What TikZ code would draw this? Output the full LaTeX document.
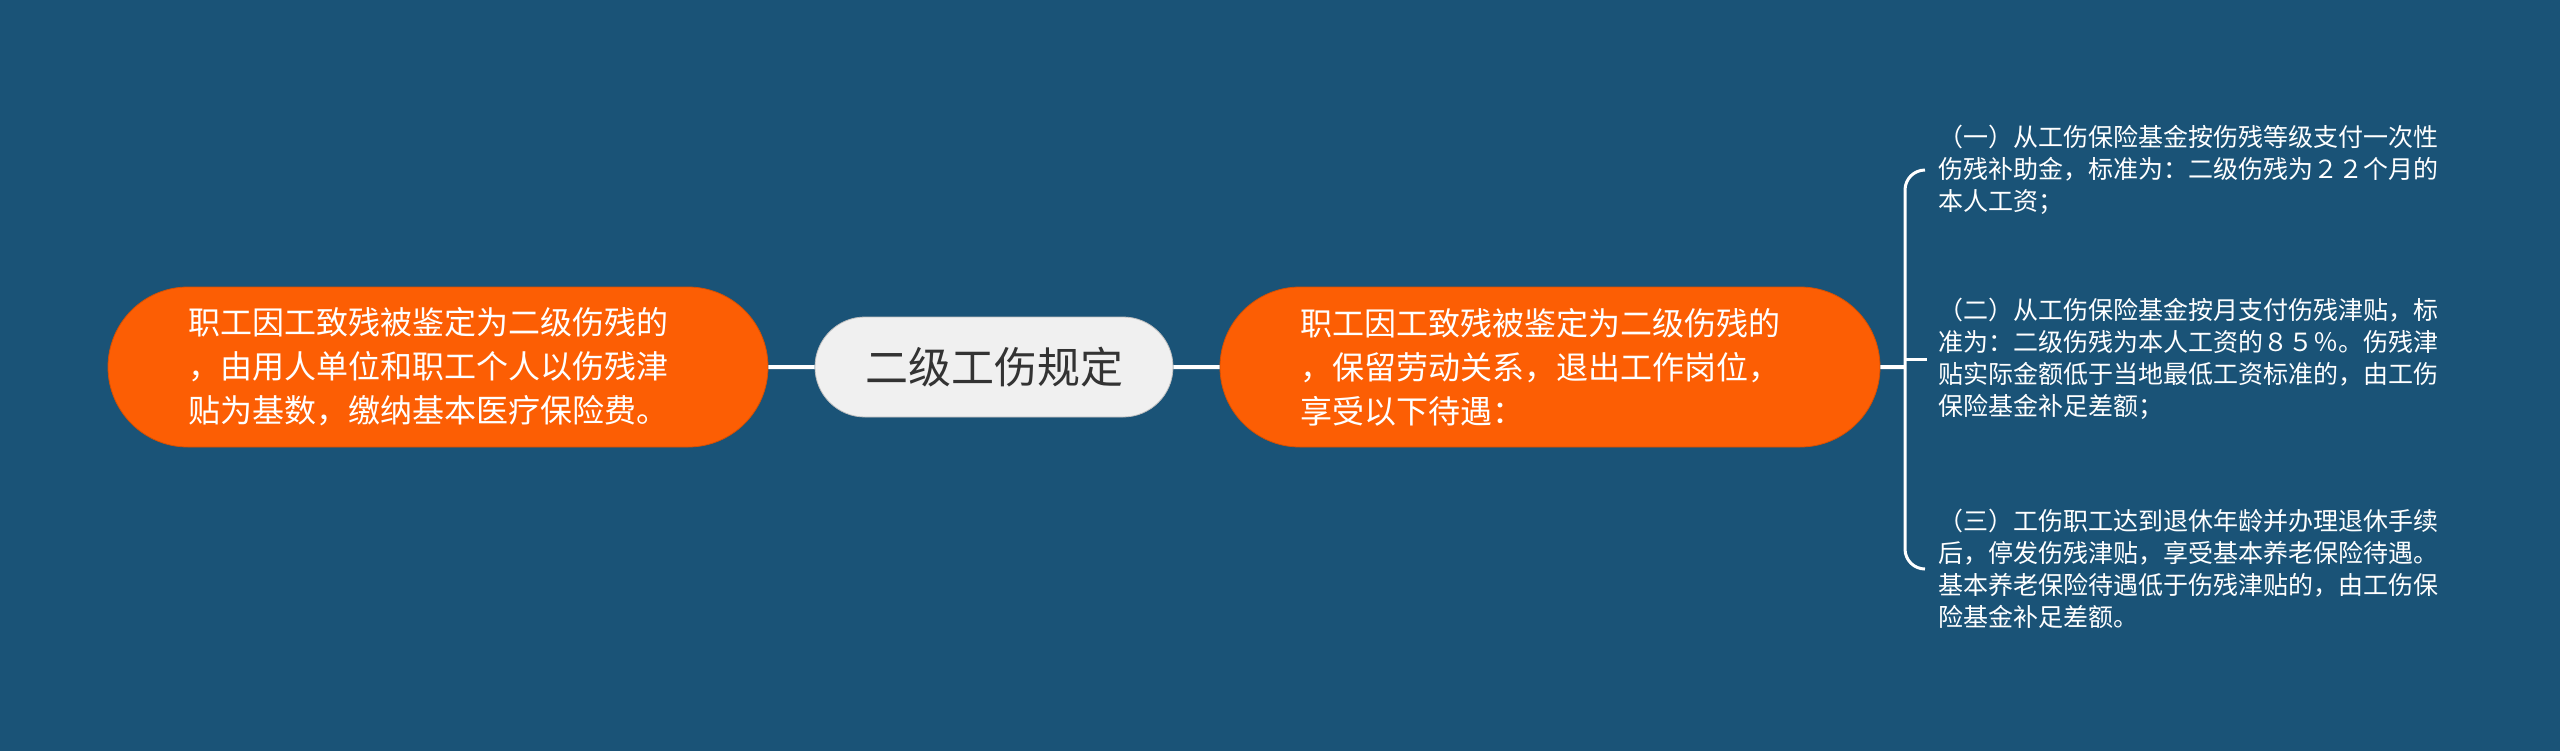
\documentclass[tikz,border=0pt]{standalone}
\usepackage{fontspec}
\setmainfont{Noto Sans CJK SC}
\usepackage{tikz}
\usetikzlibrary{shapes.misc, calc}

\definecolor{bgblue}{RGB}{26,83,119}
\definecolor{branchorange}{RGB}{252,94,4}
\definecolor{rootgrey}{RGB}{240,240,240}

\begin{document}
\begin{tikzpicture}[x=0.5pt, y=-0.5pt, node distance=278pt]
% Styles
\tikzstyle{root} = [rounded rectangle, minimum width=179pt, minimum height=50pt, text centered, draw=gray!50, fill=rootgrey, text=black!80, font=\fontsize{21.5}{26}\selectfont, inner sep=0pt]
\tikzstyle{branch} = [rounded rectangle, minimum width=330pt, minimum height=80pt, draw=branchorange!85!black, fill=branchorange, text=white, text width=250pt, align=left, font=\fontsize{16}{22}\selectfont, inner sep=0pt]
\tikzstyle{leaf} = [anchor=west, text=white, align=left, font=\fontsize{12.5}{16}\selectfont, inner sep=0pt]
\tikzstyle{line} = [draw=white, line width=2pt]
\tikzstyle{brace} = [draw=white, line width=1.5pt, rounded corners=10pt]

\fill [bgblue] (0,0) rectangle (2560,751);

\node (root) [root] at (994,367) {二级工伤规定};
\node (left_branch) [branch, left of=root] {职工因工致残被鉴定为二级伤残的\\，由用人单位和职工个人以伤残津\\贴为基数，缴纳基本医疗保险费。};
\node (right_branch) [branch, right of=root] {职工因工致残被鉴定为二级伤残的\\，保留劳动关系，退出工作岗位，\\享受以下待遇：};

\coordinate (spine) at (1905,367);
\node (detail_one) [leaf] at (1938,170) {（一）从工伤保险基金按伤残等级支付一次性\\伤残补助金，标准为：二级伤残为２２个月的\\本人工资；};
\node (detail_two) [leaf] at (1938,359) {（二）从工伤保险基金按月支付伤残津贴，标\\准为：二级伤残为本人工资的８５％。伤残津\\贴实际金额低于当地最低工资标准的，由工伤\\保险基金补足差额；};
\node (detail_three) [leaf] at (1938,569) {（三）工伤职工达到退休年龄并办理退休手续\\后，停发伤残津贴，享受基本养老保险待遇。\\基本养老保险待遇低于伤残津贴的，由工伤保\\险基金补足差额。};

\coordinate (d1) at ($(detail_one.west)+(-13,0)$);
\coordinate (d2) at ($(detail_two.west)+(-11,0)$);
\coordinate (d3) at ($(detail_three.west)+(-13,0)$);

\draw [line] (left_branch) -- (root);
\draw [line] (root) -- (right_branch);
\draw [line] (right_branch) -- (spine);
\draw [brace] (d1) -| (spine) |- (d3);
\draw [brace] (spine |- d2) -- (d2);

\end{tikzpicture}
\end{document}
